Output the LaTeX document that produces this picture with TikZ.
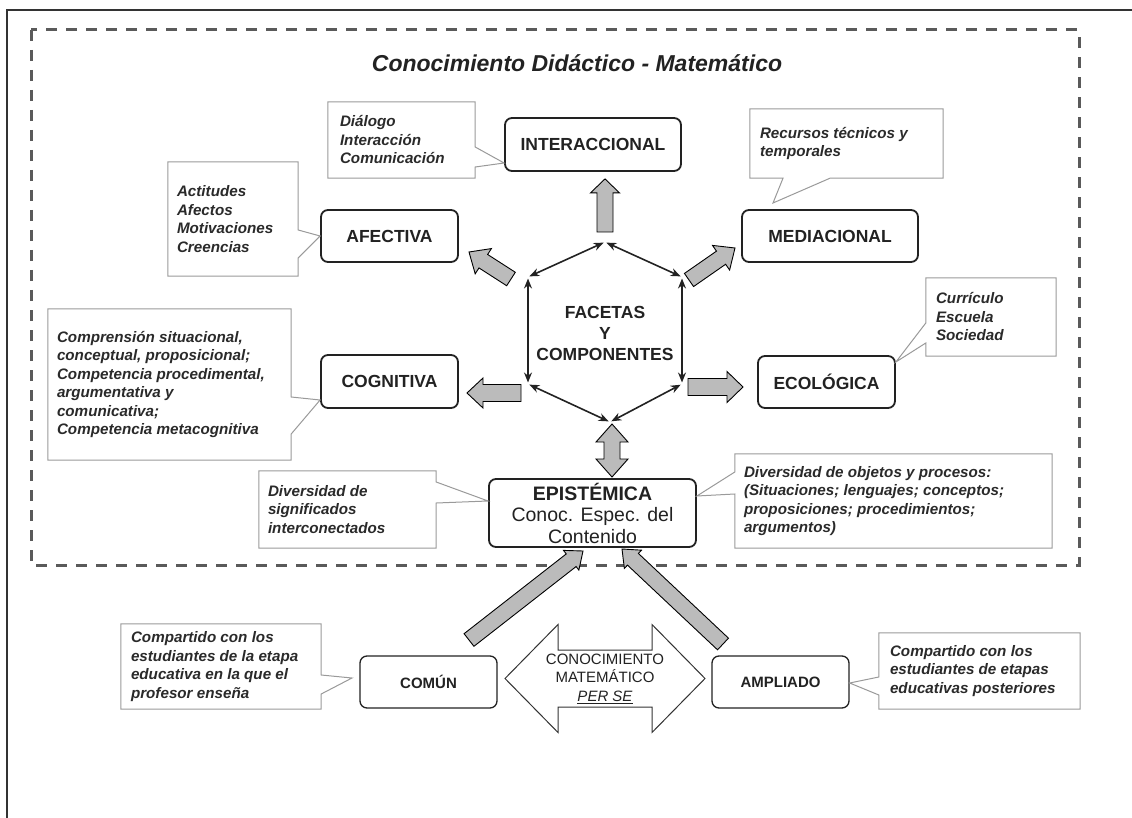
\documentclass[tikz,border=0pt]{standalone}
\usepackage{fontspec}
\setmainfont{Liberation Sans}
\usetikzlibrary{calc,arrows.meta}
\newcommand\fsz[2]{\fontsize{#1}{#2}\selectfont}
\definecolor{ink}{HTML}{222222}
\definecolor{dashc}{HTML}{5A5A5A}
\definecolor{cline}{HTML}{9A9A9A}
\definecolor{blkfill}{HTML}{BBBBBB}
\definecolor{framec}{HTML}{333333}
\definecolor{ctxt}{HTML}{2A2A2A}

\tikzset{
  fbox/.style={draw=ink, line width=1.8pt, rounded corners=7pt, fill=white,
    font=\bfseries\fsz{17.5}{21}, text=ink, inner sep=0pt, align=center},
  sbox/.style={fbox, line width=1.3pt, font=\bfseries\fsz{15}{18}},
  cbox/.style={inner sep=0pt},
  cl/.style={draw=cline, fill=white, line width=1pt, line join=miter},
  ctext/.style={font=\bfseries\itshape\fsz{15.2}{18.5}, text=ctxt, align=left, inner sep=0pt, anchor=west},
  blk/.style={fill=blkfill, draw=black, line width=0.9pt, line join=miter},
  wblk/.style={fill=white, draw=framec, line width=1pt, line join=miter},
  hexarr/.style={{Stealth[length=10pt,width=8pt]}-{Stealth[length=10pt,width=8pt]},
    line width=1.6pt, draw=ink, shorten >=1.5pt, shorten <=1.5pt},
}

\newcommand\blockarrow[6]{%
  \path ($(#2)!#5!(#1)$) coordinate (hb);
  \draw[#6] ($(#1)!#3!90:(#2)$) -- ($(hb)!#3!-90:(#1)$) -- ($(hb)!#4!-90:(#1)$) -- (#2)
    -- ($(hb)!#4!90:(#1)$) -- ($(hb)!#3!90:(#1)$) -- ($(#1)!#3!-90:(#2)$) -- cycle;}
\newcommand\dblockarrow[6]{%
  \path ($(#1)!#5!(#2)$) coordinate (ha) ($(#2)!#5!(#1)$) coordinate (hb);
  \draw[#6] (#1) -- ($(ha)!#4!90:(#2)$) -- ($(ha)!#3!90:(#2)$) -- ($(hb)!#3!-90:(#1)$)
    -- ($(hb)!#4!-90:(#1)$) -- (#2) -- ($(hb)!#4!90:(#1)$) -- ($(hb)!#3!90:(#1)$)
    -- ($(ha)!#3!-90:(#2)$) -- ($(ha)!#4!-90:(#2)$) -- cycle;}
% callout outlines with a tail on the right, left or bottom side
\newcommand\calloutR[4]{\draw[cl] (#1.north west) -- (#1.north east) -- (#1.east |- 0,#2) -- (#4)
  -- (#1.east |- 0,#3) -- (#1.south east) -- (#1.south west) -- cycle;}
\newcommand\calloutL[4]{\draw[cl] (#1.north east) -- (#1.north west) -- (#1.west |- 0,#2) -- (#4)
  -- (#1.west |- 0,#3) -- (#1.south west) -- (#1.south east) -- cycle;}
\newcommand\calloutB[4]{\draw[cl] (#1.south west) -- (#1.north west) -- (#1.north east) -- (#1.south east)
  -- (#3,0 |- #1.south) -- (#4) -- (#2,0 |- #1.south) -- cycle;}

\begin{document}
\begin{tikzpicture}[x=1pt,y=-1pt]
\useasboundingbox (0,0) rectangle (1132,818);
% outer frame lines
\draw[framec, line width=1.3pt] (1132,10) -- (7,10) -- (7,818);
% dashed frame
\draw[dashc, line width=3pt, dash pattern=on 11pt off 9pt] (31,30) rectangle (1079,565);

% title
\node[font=\bfseries\itshape\fsz{23}{27}, text=ink] (title) at (577,63) {Conocimiento Didáctico - Matemático};

% main boxes
\node[fbox, minimum width=176pt, minimum height=53pt] (inter) at (593,144.5) {INTERACCIONAL};
\node[fbox, minimum width=137pt, minimum height=52pt] (afec) at (389.5,236) {AFECTIVA};
\node[fbox, minimum width=176pt, minimum height=52pt] (medi) at (830,236) {MEDIACIONAL};
\node[fbox, minimum width=137pt, minimum height=53pt] (cogn) at (389.5,381.5) {COGNITIVA};
\node[fbox, minimum width=137pt, minimum height=52pt] (ecol) at (826.5,382) {ECOLÓGICA};
\node[fbox, minimum width=207pt, minimum height=68pt, font=\fsz{19.5}{21.5}] (epis) at (592.5,513)
  {\textbf{EPISTÉMICA}\\Conoc. Espec. del\\Contenido};
\node[sbox, minimum width=137pt, minimum height=52pt] (comun) at (428.5,682) {COMÚN};
\node[sbox, minimum width=137pt, minimum height=52pt] (ampl) at (780.5,682) {AMPLIADO};

% callout frames
\node[cbox, minimum width=147pt, minimum height=76pt] (c_inter) at (401.5,140) {};
\node[cbox, minimum width=130pt, minimum height=114pt] (c_afec) at (233,219) {};
\node[cbox, minimum width=193pt, minimum height=69pt] (c_medi) at (846.5,143.5) {};
\node[cbox, minimum width=130pt, minimum height=78pt] (c_ecol) at (991,317) {};
\node[cbox, minimum width=243pt, minimum height=151pt] (c_cogn) at (169.5,384.5) {};
\node[cbox, minimum width=177pt, minimum height=77pt] (c_epl) at (347.5,509.5) {};
\node[cbox, minimum width=317pt, minimum height=94pt] (c_epr) at (893.5,501) {};
\node[cbox, minimum width=200pt, minimum height=85pt] (c_com) at (221,666.5) {};
\node[cbox, minimum width=201pt, minimum height=76pt] (c_amp) at (979.5,671) {};

\calloutR{c_inter}{147}{167}{inter.west |- 0,163}
\calloutR{c_afec}{230}{258}{afec.west}
\calloutB{c_medi}{783}{830}{773,203}
\calloutL{c_ecol}{323}{343}{ecol.east |- 0,362}
\calloutR{c_cogn}{397}{434}{cogn.west |- 0,400}
\calloutR{c_epl}{482}{503}{epis.west |- 0,501}
\calloutL{c_epr}{472}{494}{epis.east |- 0,496}
\calloutR{c_com}{675}{694}{352,678}
\calloutL{c_amp}{677}{695}{ampl.east |- 0,683}

% callout texts
\node[ctext] (t_inter) at ([xshift=12pt]c_inter.west) {Diálogo\\Interacción\\Comunicación};
\node[ctext] (t_afec) at ([xshift=9pt]c_afec.west) {Actitudes\\Afectos\\Motivaciones\\Creencias};
\node[ctext] (t_medi) at ([xshift=10pt]c_medi.west) {Recursos técnicos y\\temporales};
\node[ctext] (t_ecol) at ([xshift=10pt]c_ecol.west) {Currículo\\Escuela\\Sociedad};
\node[ctext] (t_cogn) at ([xshift=9pt]c_cogn.west) {Comprensión situacional,\\conceptual, proposicional;\\Competencia procedimental,\\argumentativa y\\comunicativa;\\Competencia metacognitiva};
\node[ctext] (t_epl) at ([xshift=9pt]c_epl.west) {Diversidad de\\significados\\interconectados};
\node[ctext] (t_epr) at ([xshift=9pt]c_epr.west) {Diversidad de objetos y procesos:\\(Situaciones; lenguajes; conceptos;\\proposiciones; procedimientos;\\argumentos)};
\node[ctext] (t_com) at ([xshift=10pt]c_com.west) {Compartido con los\\estudiantes de la etapa\\educativa en la que el\\profesor enseña};
\node[ctext] (t_amp) at ([xshift=11pt]c_amp.west) {Compartido con los\\estudiantes de etapas\\educativas posteriores};

% hexagon
\coordinate (hT) at (605,242);
\coordinate (hUR) at (682,277);
\coordinate (hLR) at (682,384);
\coordinate (hB) at (610,422);
\coordinate (hLL) at (528,384);
\coordinate (hUL) at (528,277);
\draw[hexarr] (hT) -- (hUR);
\draw[hexarr] (hUR) -- (hLR);
\draw[hexarr] (hLR) -- (hB);
\draw[hexarr] (hB) -- (hLL);
\draw[hexarr] (hLL) -- (hUL);
\draw[hexarr] (hUL) -- (hT);
\node[font=\bfseries\fsz{17.5}{21}, text=ink, align=center] (facetas) at (605,333) {FACETAS\\Y\\COMPONENTES};

% grey block arrows
\coordinate (aI0) at (605,232); \coordinate (aI1) at (inter.south -| hT);
\blockarrow{aI0}{[yshift=-7pt]aI1}{8pt}{14.5pt}{14pt}{blk}
\coordinate (aA0) at (511,279); \coordinate (aA1) at (469,252);
\blockarrow{aA0}{aA1}{8pt}{15pt}{17pt}{blk}
\coordinate (aM0) at (689,280); \coordinate (aM1) at (735,248);
\blockarrow{aM0}{aM1}{8pt}{15pt}{17pt}{blk}
\coordinate (aC0) at (521,393); \coordinate (aC1) at (467,393);
\blockarrow{aC0}{aC1}{8.5pt}{15pt}{16pt}{blk}
\coordinate (aE0) at (688,387); \coordinate (aE1) at (743,387);
\blockarrow{aE0}{aE1}{8.5pt}{15.5pt}{16pt}{blk}
\coordinate (aD0) at (612,424); \coordinate (aD1) at (612,477);
\dblockarrow{aD0}{aD1}{8pt}{16pt}{18pt}{blk}
\coordinate (aL0) at (469,640); \coordinate (aL1) at (583,551);
\blockarrow{aL0}{aL1}{8pt}{12.5pt}{15pt}{blk}
\coordinate (aR0) at (723,644); \coordinate (aR1) at (622,549);
\blockarrow{aR0}{aR1}{8pt}{12.5pt}{15pt}{blk}

% white double arrow: conocimiento matematico per se
\coordinate (dl) at (505,678.5); \coordinate (dr) at (705,678.5);
\dblockarrow{dl}{dr}{28.5pt}{54pt}{53pt}{wblk}
\node[font=\fsz{15}{18.5}, text=ink, align=center] (ksm) at (605,678.5)
  {CONOCIMIENTO\\MATEMÁTICO\\\underline{\itshape PER SE}};
\end{tikzpicture}
\end{document}
